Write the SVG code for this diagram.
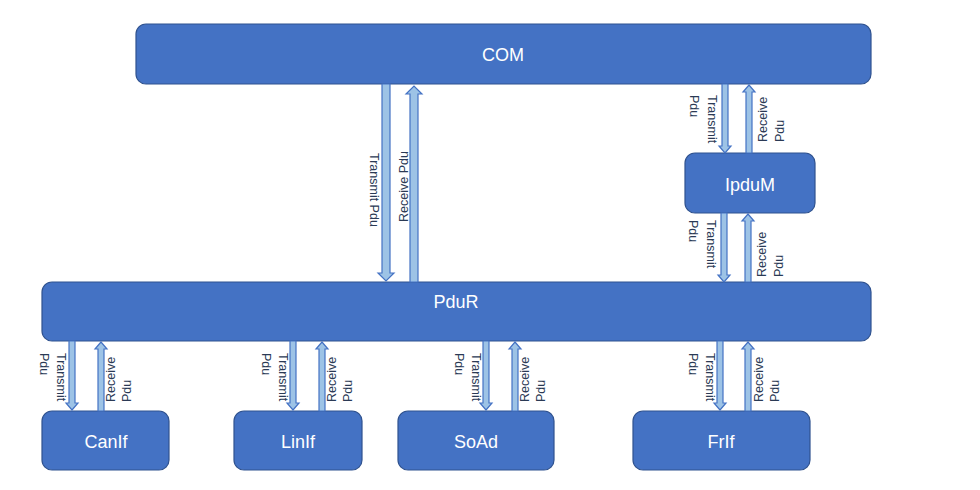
<svg xmlns="http://www.w3.org/2000/svg" width="980" height="490" viewBox="0 0 980 490">
<style>
.box{fill:#4472C4;stroke:#2F528F;stroke-width:1.2}
.nt{fill:#fff;font-family:"Liberation Sans",Arial,sans-serif;font-size:18px;text-anchor:middle;dominant-baseline:central}
.arr{fill:#9DC3E6;stroke:#4472C4;stroke-width:1.2}
.lb{fill:#2B3A55;font-family:"Liberation Sans",Arial,sans-serif;font-size:12.5px;dominant-baseline:central}
</style>
<rect width="980" height="490" fill="#fff"/>
<g id="COM"><rect class="box" x="136" y="24" width="735" height="60" rx="10"/><text class="nt" x="503" y="55">COM</text></g>
<g id="PduR"><rect class="box" x="42" y="282" width="829" height="59" rx="10"/><text class="nt" x="456" y="302">PduR</text></g>
<g id="IpduM"><rect class="box" x="685" y="153" width="130" height="60" rx="10"/><text class="nt" x="750" y="185">IpduM</text></g>
<g id="CanIf"><rect class="box" x="42" y="411" width="127" height="59" rx="10"/><text class="nt" x="106" y="442">CanIf</text></g>
<g id="LinIf"><rect class="box" x="234" y="411" width="128" height="59" rx="10"/><text class="nt" x="298" y="442">LinIf</text></g>
<g id="SoAd"><rect class="box" x="398" y="411" width="156" height="59" rx="10"/><text class="nt" x="476" y="442">SoAd</text></g>
<g id="FrIf"><rect class="box" x="633" y="411" width="177" height="59" rx="10"/><text class="nt" x="721" y="442">FrIf</text></g>
<g id="connectors">
<!-- COM - PduR -->
<path class="arr" d="M382,84 H390 V273 H394 L386,281 L378,273 H382 Z"/>
<path class="arr" d="M410,282 H418 V94 H422 L414,86 L406,94 H410 Z"/>
<!-- COM - IpduM -->
<path class="arr" d="M722,84 H728 V146 H731 L725,153 L719,146 H722 Z"/>
<path class="arr" d="M746,153 H752 V92 H755 L749,85 L743,92 H746 Z"/>
<!-- IpduM - PduR -->
<path class="arr" d="M721,213 H727 V275 H730 L724,282 L718,275 H721 Z"/>
<path class="arr" d="M745,282 H751 V221 H754 L748,214 L742,221 H745 Z"/>
<!-- CanIf -->
<path class="arr" d="M69,341 H75 V403 H78 L72,410 L66,403 H69 Z"/>
<path class="arr" d="M98,411 H104 V349 H107 L101,342 L95,349 H98 Z"/>
<!-- LinIf -->
<path class="arr" d="M290,341 H296 V403 H299 L293,410 L287,403 H290 Z"/>
<path class="arr" d="M319,411 H325 V349 H328 L322,342 L316,349 H319 Z"/>
<!-- SoAd -->
<path class="arr" d="M483,341 H489 V403 H492 L486,410 L480,403 H483 Z"/>
<path class="arr" d="M512,411 H518 V349 H521 L515,342 L509,349 H512 Z"/>
<!-- FrIf -->
<path class="arr" d="M717,341 H723 V403 H726 L720,410 L714,403 H717 Z"/>
<path class="arr" d="M745,411 H751 V349 H754 L748,342 L742,349 H745 Z"/>
<!-- labels -->
<text class="lb" transform="translate(374,153) rotate(90)">Transmit Pdu</text>
<text class="lb" transform="translate(404,222) rotate(-90)">Receive Pdu</text>
<text class="lb" transform="translate(712,95) rotate(90)">Transmit</text>
<text class="lb" transform="translate(694,95) rotate(90)">Pdu</text>
<text class="lb" transform="translate(763,142) rotate(-90)">Receive</text>
<text class="lb" transform="translate(780,142) rotate(-90)">Pdu</text>
<text class="lb" transform="translate(711,220) rotate(90)">Transmit</text>
<text class="lb" transform="translate(693,220) rotate(90)">Pdu</text>
<text class="lb" transform="translate(762,277) rotate(-90)">Receive</text>
<text class="lb" transform="translate(779,277) rotate(-90)">Pdu</text>
<text class="lb" transform="translate(61,353) rotate(90)">Transmit</text>
<text class="lb" transform="translate(44,353) rotate(90)">Pdu</text>
<text class="lb" transform="translate(111,402) rotate(-90)">Receive</text>
<text class="lb" transform="translate(127,402) rotate(-90)">Pdu</text>
<text class="lb" transform="translate(283,353) rotate(90)">Transmit</text>
<text class="lb" transform="translate(266,353) rotate(90)">Pdu</text>
<text class="lb" transform="translate(332,402) rotate(-90)">Receive</text>
<text class="lb" transform="translate(348,402) rotate(-90)">Pdu</text>
<text class="lb" transform="translate(476,353) rotate(90)">Transmit</text>
<text class="lb" transform="translate(459,353) rotate(90)">Pdu</text>
<text class="lb" transform="translate(525,402) rotate(-90)">Receive</text>
<text class="lb" transform="translate(541,402) rotate(-90)">Pdu</text>
<text class="lb" transform="translate(710,353) rotate(90)">Transmit</text>
<text class="lb" transform="translate(693,353) rotate(90)">Pdu</text>
<text class="lb" transform="translate(759,402) rotate(-90)">Receive</text>
<text class="lb" transform="translate(775,402) rotate(-90)">Pdu</text>
</g>
</svg>
